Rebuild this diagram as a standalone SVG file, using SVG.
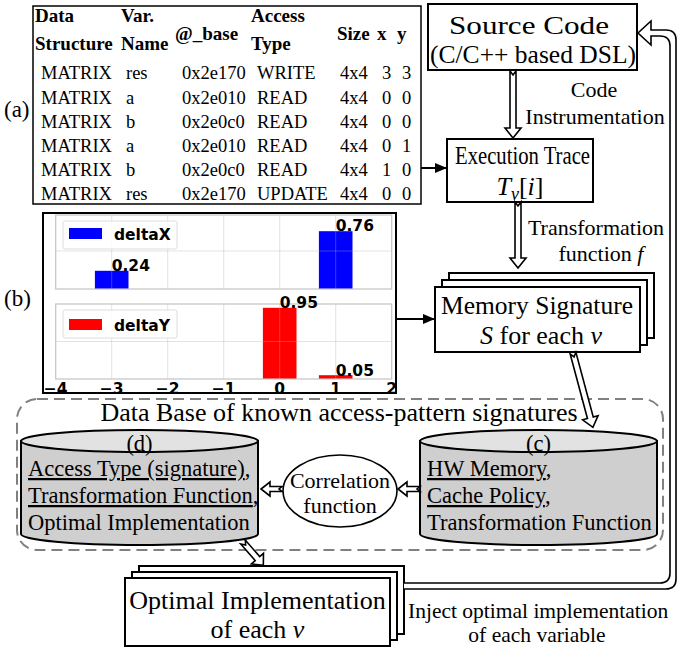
<svg xmlns="http://www.w3.org/2000/svg" width="680" height="648" viewBox="0 0 680 648">
  <style>
    .serif{font-family:"Liberation Serif","Times New Roman",serif;fill:#000}
    .box{fill:#fff;stroke:#000;stroke-width:2}
    .big{font-size:26px}
    .lbl{font-size:22px}
    .db{font-size:22.5px}
    .tbl{font-size:18.5px}
    .th{font-size:19px;font-weight:bold}
    .it{font-style:italic}
    .u{text-decoration:underline}
    .mpl{font-family:"DejaVu Sans",sans-serif;font-weight:bold;font-size:15.5px;fill:#000}
    .grid{stroke:#b0b0b0;stroke-opacity:0.35;stroke-width:1}
    .spine{fill:none;stroke:#c4c4c4;stroke-width:1.2}
    .legend{fill:#fff;fill-opacity:0.85;stroke:#dddddd;stroke-width:1}
    .hollow{fill:#fff;stroke:#000;stroke-width:1.6;stroke-linejoin:miter}
    .line{stroke:#000;stroke-width:2;fill:none}
    .cyl-body{fill:#cfcfcf;stroke:#000;stroke-width:2}
    .cyl-top{fill:#e2e2e2;stroke:#000;stroke-width:2}
  </style>
  <defs>
    <marker id="head" viewBox="0 0 12 12" refX="12" refY="6" markerWidth="12" markerHeight="12" markerUnits="userSpaceOnUse" orient="auto">
      <path d="M0,1 L12,6 L0,11 Z" fill="#000"/>
    </marker>
    <clipPath id="chartClip">
      <rect x="43" y="213" width="353" height="179"/>
    </clipPath>
  </defs>

  <rect width="680" height="648" fill="#fff"/>

  <!-- (a) execution trace table -->
  <g id="trace-table">
    <text class="serif" x="4" y="117" style="font-size:23px">(a)</text>
    <rect x="33" y="6" width="388" height="198" fill="#fff" stroke="#000" stroke-width="1.5"/>
    <g class="serif th">
      <text x="35" y="22">Data</text>
      <text x="35" y="50">Structure</text>
      <text x="121" y="22">Var.</text>
      <text x="121" y="50">Name</text>
      <text x="175" y="40">@_base</text>
      <text x="251" y="22">Access</text>
      <text x="251" y="50">Type</text>
      <text x="337" y="40">Size</text>
      <text x="377" y="40">x</text>
      <text x="397" y="40">y</text>
    </g>
    <g class="serif tbl">
      <text x="41" y="79">MATRIX</text><text x="126" y="79">res</text><text x="182" y="79">0x2e170</text><text x="257" y="79">WRITE</text><text x="340" y="79">4x4</text><text x="382" y="79">3</text><text x="402" y="79">3</text>
      <text x="41" y="103.5">MATRIX</text><text x="126" y="103.5">a</text><text x="182" y="103.5">0x2e010</text><text x="257" y="103.5">READ</text><text x="340" y="103.5">4x4</text><text x="382" y="103.5">0</text><text x="402" y="103.5">0</text>
      <text x="41" y="127.5">MATRIX</text><text x="126" y="127.5">b</text><text x="182" y="127.5">0x2e0c0</text><text x="257" y="127.5">READ</text><text x="340" y="127.5">4x4</text><text x="382" y="127.5">0</text><text x="402" y="127.5">0</text>
      <text x="41" y="151.5">MATRIX</text><text x="126" y="151.5">a</text><text x="182" y="151.5">0x2e010</text><text x="257" y="151.5">READ</text><text x="340" y="151.5">4x4</text><text x="382" y="151.5">0</text><text x="402" y="151.5">1</text>
      <text x="41" y="175.5">MATRIX</text><text x="126" y="175.5">b</text><text x="182" y="175.5">0x2e0c0</text><text x="257" y="175.5">READ</text><text x="340" y="175.5">4x4</text><text x="382" y="175.5">1</text><text x="402" y="175.5">0</text>
      <text x="41" y="199.5">MATRIX</text><text x="126" y="199.5">res</text><text x="182" y="199.5">0x2e170</text><text x="257" y="199.5">UPDATE</text><text x="340" y="199.5">4x4</text><text x="382" y="199.5">0</text><text x="402" y="199.5">0</text>
    </g>
  </g>

  <!-- (b) delta histograms -->
  <g id="delta-chart">
    <text class="serif" x="4" y="306" style="font-size:23px">(b)</text>
    <rect x="43" y="213" width="353" height="180" fill="#fff"/>
    <!-- upper axes: deltaX -->
    <rect x="55.7" y="215" width="336" height="74" fill="#fff"/>
    <rect x="94.9" y="270.8" width="33.6" height="18.2" fill="#0000ff"/>
    <rect x="318.9" y="231.2" width="33.6" height="57.8" fill="#0000ff"/>
    <g class="grid">
      <line x1="111.7" y1="215" x2="111.7" y2="289"/><line x1="167.7" y1="215" x2="167.7" y2="289"/>
      <line x1="223.7" y1="215" x2="223.7" y2="289"/><line x1="279.7" y1="215" x2="279.7" y2="289"/>
      <line x1="335.7" y1="215" x2="335.7" y2="289"/><line x1="55.7" y1="251" x2="391.7" y2="251"/>
    </g>
    <rect class="spine" x="55.7" y="215" width="336" height="74"/>
    <rect class="legend" x="63" y="221" width="114" height="28" rx="2"/>
    <rect x="69" y="228" width="33" height="11" fill="#0000ff"/>
    <text class="mpl" x="114" y="240">deltaX</text>
    <text class="mpl" x="111.7" y="271">0.24</text>
    <text class="mpl" x="335.7" y="231">0.76</text>
    <!-- lower axes: deltaY -->
    <rect x="55.7" y="304" width="336" height="75" fill="#fff"/>
    <rect x="262.9" y="307.8" width="33.6" height="71.2" fill="#ff0000"/>
    <rect x="318.9" y="375.2" width="33.6" height="3.8" fill="#ff0000"/>
    <g class="grid">
      <line x1="111.7" y1="304" x2="111.7" y2="379"/><line x1="167.7" y1="304" x2="167.7" y2="379"/>
      <line x1="223.7" y1="304" x2="223.7" y2="379"/><line x1="279.7" y1="304" x2="279.7" y2="379"/>
      <line x1="335.7" y1="304" x2="335.7" y2="379"/><line x1="55.7" y1="341.5" x2="391.7" y2="341.5"/>
    </g>
    <rect class="spine" x="55.7" y="304" width="336" height="75"/>
    <rect class="legend" x="63" y="310" width="114" height="28" rx="2"/>
    <rect x="69" y="319" width="33" height="11" fill="#ff0000"/>
    <text class="mpl" x="114" y="331">deltaY</text>
    <text class="mpl" x="279.7" y="308">0.95</text>
    <text class="mpl" x="335.7" y="376">0.05</text>
    <g clip-path="url(#chartClip)" class="mpl" text-anchor="middle">
      <text x="55.7" y="394">−4</text><text x="111.7" y="394">−3</text><text x="167.7" y="394">−2</text>
      <text x="223.7" y="394">−1</text><text x="279.7" y="394">0</text><text x="335.7" y="394">1</text>
      <text x="391.7" y="394">2</text>
    </g>
    <rect x="43" y="213" width="353" height="180" fill="none" stroke="#000" stroke-width="2"/>
  </g>

  <!-- pipeline boxes -->
  <g id="source-code">
    <rect class="box" x="428" y="4" width="209" height="66"/>
    <text class="serif big" x="449" y="34" textLength="160" lengthAdjust="spacingAndGlyphs">Source Code</text>
    <text class="serif big" x="430" y="63" textLength="206" lengthAdjust="spacingAndGlyphs">(C/C++ based DSL)</text>
  </g>

  <g id="execution-trace">
    <rect class="box" x="447" y="139" width="146" height="63"/>
    <text class="serif" x="455" y="164" style="font-size:25px" textLength="135" lengthAdjust="spacingAndGlyphs">Execution Trace</text>
    <text class="serif big" x="520" y="195" text-anchor="middle"><tspan class="it">T</tspan><tspan class="it" dy="5" style="font-size:18px">v</tspan><tspan dy="-5">[</tspan><tspan class="it">i</tspan>]</text>
  </g>

  <g id="memory-signature">
    <rect class="box" x="449" y="273" width="205" height="65"/>
    <rect class="box" x="442" y="280" width="205" height="65"/>
    <rect class="box" x="435" y="287" width="205" height="65"/>
    <text class="serif" x="537" y="314" text-anchor="middle" style="font-size:25.5px">Memory Signature</text>
    <text class="serif big" x="541" y="344" text-anchor="middle"><tspan class="it">S</tspan> for each <tspan class="it">v</tspan></text>
  </g>

  <!-- signature database -->
  <g id="signature-db">
    <rect x="17" y="399" width="646" height="151" rx="20" fill="none" stroke="#808080" stroke-width="2" stroke-dasharray="11 6"/>
    <text class="serif big" x="339" y="421" text-anchor="middle">Data Base of known access-pattern signatures</text>
  </g>

  <g id="db-implementations">
    <path class="cyl-body" d="M21,441 L21,534 A118.5,11 0 0 0 258,534 L258,441 Z"/>
    <ellipse class="cyl-top" cx="139.5" cy="441" rx="118.5" ry="11"/>
    <text class="serif db" x="139.5" y="451" text-anchor="middle">(d)</text>
    <text class="serif db" x="28" y="476"><tspan class="u">Access Type (signature)</tspan>,</text>
    <text class="serif db" x="28" y="503"><tspan class="u">Transformation Function</tspan>,</text>
    <text class="serif db" x="28" y="530">Optimal Implementation</text>
  </g>

  <g id="db-hardware">
    <path class="cyl-body" d="M420,441 L420,534 A118.5,11 0 0 0 657,534 L657,441 Z"/>
    <ellipse class="cyl-top" cx="538.5" cy="441" rx="118.5" ry="11"/>
    <text class="serif db" x="538.5" y="451" text-anchor="middle">(c)</text>
    <text class="serif db" x="427" y="476"><tspan class="u">HW Memory</tspan>,</text>
    <text class="serif db" x="427" y="503"><tspan class="u">Cache Policy</tspan>,</text>
    <text class="serif db" x="427" y="530">Transformation Function</text>
  </g>

  <g id="correlation">
    <ellipse cx="340" cy="491" rx="57" ry="36" fill="#fff" stroke="#000" stroke-width="1.6"/>
    <text class="serif lbl" x="340" y="488" text-anchor="middle">Correlation</text>
    <text class="serif lbl" x="340" y="513" text-anchor="middle">function</text>
  </g>

  <g id="optimal-implementation">
    <rect class="box" x="139" y="566" width="265" height="68"/>
    <rect class="box" x="132" y="572" width="265" height="68"/>
    <rect class="box" x="125" y="578" width="265" height="68"/>
    <text class="serif big" x="257.5" y="609" text-anchor="middle">Optimal Implementation</text>
    <text class="serif big" x="257.5" y="638" text-anchor="middle">of each <tspan class="it">v</tspan></text>
  </g>

  <!-- connectors -->
  <g id="connectors">
    <line class="line" x1="421" y1="168" x2="447" y2="168" marker-end="url(#head)"/>
    <line class="line" x1="396" y1="319" x2="435" y2="319" marker-end="url(#head)"/>

    <path class="hollow" transform="translate(513,71)" d="M-3,0 L-3,57 L-8,57 L0,67 L8,57 L3,57 L3,0 L0,4 Z"/>
    <path class="hollow" transform="translate(518,202)" d="M-3,0 L-3,56 L-8,56 L0,66 L8,56 L3,56 L3,0 L0,4 Z"/>
    <path class="hollow" transform="translate(573,353) rotate(-15)" d="M-3,0 L-3,67 L-8,67 L0,77 L8,67 L3,67 L3,0 L0,4 Z"/>
    <path class="hollow" transform="translate(243,542) rotate(-41)" d="M-3,0 L-3,22 L-8,22 L0,31 L8,22 L3,22 L3,0 L0,4 Z"/>
    <path class="hollow" transform="translate(282,489) rotate(90)" d="M-2.5,0 L-2.5,12 L-7,12 L0,21 L7,12 L2.5,12 L2.5,0 L0,3 Z"/>
    <path class="hollow" transform="translate(420,489) rotate(90)" d="M-2.5,0 L-2.5,13 L-7,13 L0,22 L7,13 L2.5,13 L2.5,0 L0,3 Z"/>

    <path class="hollow" d="M404,589 L666,589 Q676,589 676,579 L676,40 Q676,30 666,30 L651,30 L651,21 L638,33 L651,45 L651,36 L660,36 Q670,36 670,46 L670,573 Q670,583 660,583 L404,583"/>

    <text class="serif lbl" x="594" y="97" text-anchor="middle">Code</text>
    <text class="serif lbl" x="595" y="124" text-anchor="middle">Instrumentation</text>
    <text class="serif lbl" x="596" y="235" text-anchor="middle">Transformation</text>
    <text class="serif lbl" x="601" y="261" text-anchor="middle">function <tspan class="it">f</tspan></text>
    <text class="serif" x="408" y="618" style="font-size:21.5px">Inject optimal implementation</text>
    <text class="serif" x="537" y="642" text-anchor="middle" style="font-size:21.5px">of each variable</text>
  </g>
</svg>
